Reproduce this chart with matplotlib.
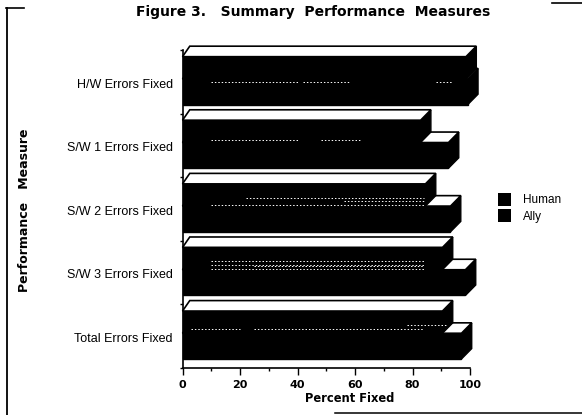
"""Figure 3: Summary Performance Measures (pseudo-3D horizontal bars, scanned look)."""

import matplotlib
matplotlib.use("Agg")
import matplotlib.pyplot as plt
from matplotlib.lines import Line2D
from matplotlib.patches import Polygon, Rectangle

MEASURES = ["H/W Errors Fixed", "S/W 1 Errors Fixed", "S/W 2 Errors Fixed",
            "S/W 3 Errors Fixed", "Total Errors Fixed"]
HUMAN = [98.6, 82.8, 84.5, 90.4, 90.4]
ALLY = [99.2, 92.5, 93.2, 98.4, 97.0]
XTICKS = [0, 20, 40, 60, 80, 100]
XMINOR = [10, 30, 50, 70, 90]

W, H = 582, 415
DX = 3.6     # depth of the bars, percent
DY = 0.165   # depth of the bars, groups
SANS = ["Liberation Sans", "DejaVu Sans"]
WIDE = ["DejaVu Sans"]

# white moire left by the scan: (group, position in group, from, to)
SPECKLE = [
    (0, .50, 10, 40), (0, .50, 42, 58), (0, .50, 88, 94),
    (1, .42, 10, 40), (1, .42, 48, 62),
    (2, .32, 22, 84), (2, .38, 56, 84), (2, .44, 10, 84),
    (3, .32, 10, 84), (3, .38, 10, 84), (3, .40, 25, 84), (3, .45, 10, 84),
    (4, .32, 78, 92), (4, .39, 25, 84), (4, .39, 3, 20),
]


def bar3d(ax, y0, y1, val, z):
    """Black front and side, white top with a black outline."""
    ax.add_patch(Polygon([(val, y0), (val + DX, y0 - DY), (val + DX, y1 - DY), (val, y1)],
                         fc="black", ec="black", lw=1, zorder=z, clip_on=False))
    ax.add_patch(Polygon([(0, y0), (DX * .7, y0 - DY), (val + DX, y0 - DY), (val, y0)],
                         fc="white", ec="black", lw=1.2, zorder=z, clip_on=False))
    ax.add_patch(Rectangle((0, y0), val, y1 - y0, fc="black", ec="black", lw=1, zorder=z, clip_on=False))


def main():
    fig = plt.figure(figsize=(W / 100, H / 100), dpi=100)
    ax = fig.add_axes([182.5 / W, 1 - 368 / H, 287.5 / W, 318 / H])
    ax.set_xlim(0, 100)
    ax.set_ylim(5, 0)
    for s in ("top", "right"):
        ax.spines[s].set_visible(False)
    for s in ("left", "bottom"):
        ax.spines[s].set_linewidth(1.2)

    for i in range(len(MEASURES)):
        # ally first: the human bar hides most of its top
        bar3d(ax, i + .455, i + .86, ALLY[i], 2 + i)
        bar3d(ax, i + .105, i + .455, HUMAN[i], 2.5 + i)
    for g, pos, x0, x1 in SPECKLE:
        ax.plot([x0, x1], [g + pos, g + pos], color="white", lw=.7, ls=(0, (1.5, 2)), zorder=10)

    ax.set_xticks(XTICKS)
    ax.set_xticklabels(XTICKS, fontsize=8, fontweight="bold", family=WIDE)
    ax.set_xticks(XMINOR, minor=True)
    ax.tick_params(axis="x", which="major", length=5, width=1, pad=4)
    ax.tick_params(axis="x", which="minor", length=2.5, width=1)
    ax.set_yticks(range(6))
    ax.set_yticklabels([])
    ax.tick_params(axis="y", length=2.5, width=1)
    for i, m in enumerate(MEASURES):
        ax.text(-3.4, i + .545, m, ha="right", va="center", fontsize=9, family=SANS)

    fig.text(350 / W, 1 - 398 / H, "Percent Fixed", ha="center", va="center",
             fontsize=8.3, fontweight="bold", family=WIDE)
    fig.text(313 / W, 1 - 12 / H, "Figure 3.   Summary  Performance  Measures", ha="center", va="center",
             fontsize=10, fontweight="bold", family=WIDE)
    fig.text(25 / W, 1 - 210 / H, "Performance   Measure", rotation=90, ha="center", va="center",
             fontsize=9, fontweight="bold", family=WIDE)

    # legend
    for name, y, ty in (("Human", 199.5, 200), ("Ally", 215.5, 217)):
        fig.patches.append(Rectangle((498 / W, 1 - (y + 6.5) / H), 13 / W, 13 / H, fc="black", ec="none",
                                     transform=fig.transFigure))
        fig.text(523 / W, 1 - ty / H, name, ha="left", va="center", fontsize=8.5, family=SANS)

    # page border left in the scan
    for xs, ys, lw in (((7, 7), (8, 415), 1.3), ((6, 24), (8, 8), 1.2),
                       ((552, 582), (3, 3), 1.2), ((335, 582), (413, 413), 1.1)):
        fig.add_artist(Line2D([x / W for x in xs], [1 - y / H for y in ys], color="black", lw=lw))

    fig.savefig("out.png", dpi=100)


if __name__ == "__main__":
    main()
